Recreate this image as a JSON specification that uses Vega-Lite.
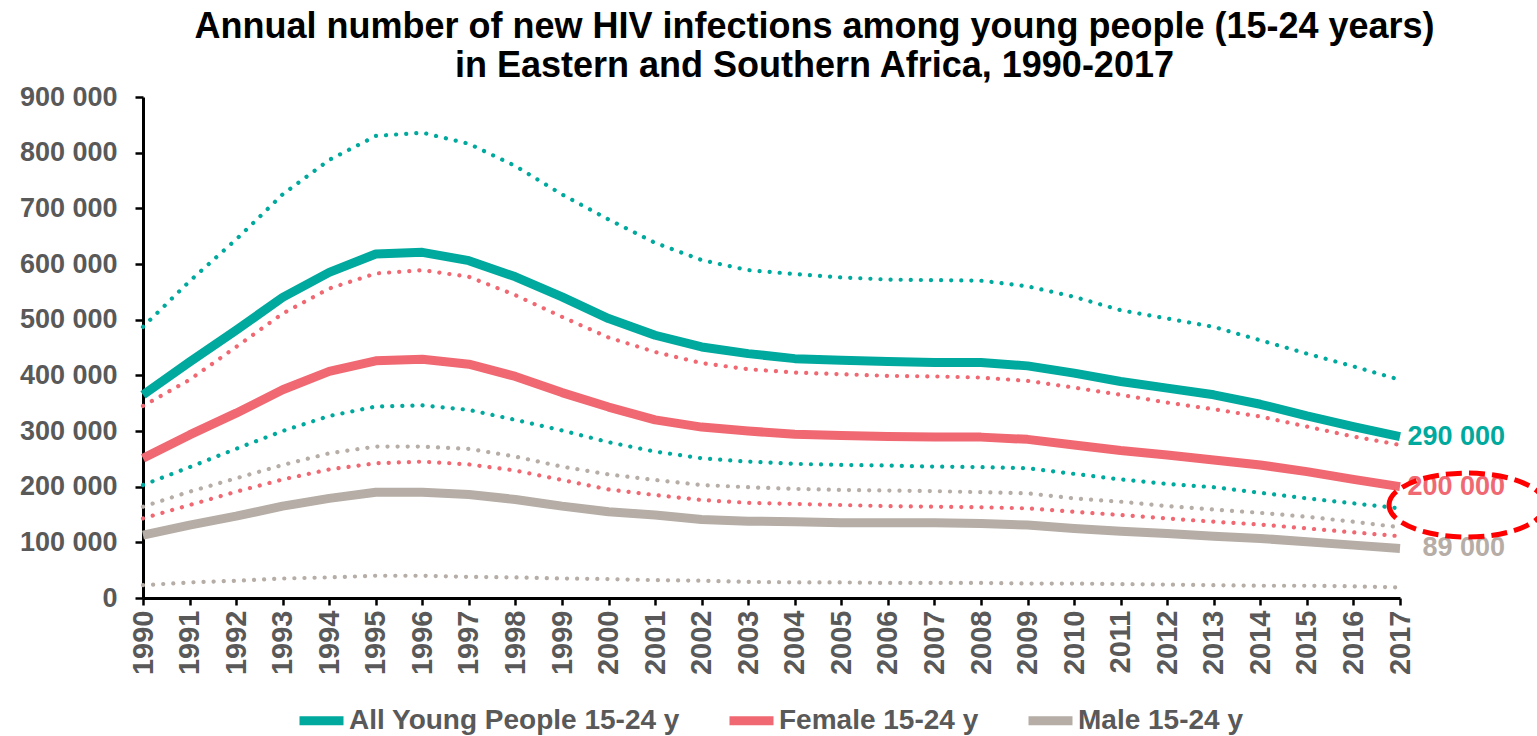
{
  "$schema": "https://vega.github.io/schema/vega-lite/v6.json",
  "autosize": "none",
  "padding": {"left": 143, "top": 97, "right": 137, "bottom": 138},
  "width": 1257,
  "height": 501,
  "title": {
    "text": ["Annual number of new HIV infections among young people (15-24 years)", "in Eastern and Southern Africa, 1990-2017"],
    "anchor": "middle",
    "dx": 43,
    "dy": 22,
    "offset": 20,
    "lineHeight": 39
  },
  "datasets": {
    "infections": [
      {"year": 1990, "group": "All Young People 15-24 y", "estimate": 365000, "lower": 203000, "upper": 487000},
      {"year": 1991, "group": "All Young People 15-24 y", "estimate": 424000, "lower": 235000, "upper": 569000},
      {"year": 1992, "group": "All Young People 15-24 y", "estimate": 481000, "lower": 268000, "upper": 644000},
      {"year": 1993, "group": "All Young People 15-24 y", "estimate": 540000, "lower": 300000, "upper": 725000},
      {"year": 1994, "group": "All Young People 15-24 y", "estimate": 585000, "lower": 327000, "upper": 787000},
      {"year": 1995, "group": "All Young People 15-24 y", "estimate": 618000, "lower": 344000, "upper": 830000},
      {"year": 1996, "group": "All Young People 15-24 y", "estimate": 621000, "lower": 346000, "upper": 836000},
      {"year": 1997, "group": "All Young People 15-24 y", "estimate": 606000, "lower": 338000, "upper": 816000},
      {"year": 1998, "group": "All Young People 15-24 y", "estimate": 577000, "lower": 320000, "upper": 776000},
      {"year": 1999, "group": "All Young People 15-24 y", "estimate": 541000, "lower": 301000, "upper": 725000},
      {"year": 2000, "group": "All Young People 15-24 y", "estimate": 502000, "lower": 280000, "upper": 680000},
      {"year": 2001, "group": "All Young People 15-24 y", "estimate": 472000, "lower": 263000, "upper": 638000},
      {"year": 2002, "group": "All Young People 15-24 y", "estimate": 451000, "lower": 251000, "upper": 607000},
      {"year": 2003, "group": "All Young People 15-24 y", "estimate": 439000, "lower": 245000, "upper": 589000},
      {"year": 2004, "group": "All Young People 15-24 y", "estimate": 430000, "lower": 241000, "upper": 582000},
      {"year": 2005, "group": "All Young People 15-24 y", "estimate": 427000, "lower": 239000, "upper": 576000},
      {"year": 2006, "group": "All Young People 15-24 y", "estimate": 425000, "lower": 238000, "upper": 572000},
      {"year": 2007, "group": "All Young People 15-24 y", "estimate": 423000, "lower": 236000, "upper": 571000},
      {"year": 2008, "group": "All Young People 15-24 y", "estimate": 423000, "lower": 235000, "upper": 570000},
      {"year": 2009, "group": "All Young People 15-24 y", "estimate": 417000, "lower": 233000, "upper": 560000},
      {"year": 2010, "group": "All Young People 15-24 y", "estimate": 404000, "lower": 223000, "upper": 541000},
      {"year": 2011, "group": "All Young People 15-24 y", "estimate": 389000, "lower": 213000, "upper": 517000},
      {"year": 2012, "group": "All Young People 15-24 y", "estimate": 377000, "lower": 205000, "upper": 502000},
      {"year": 2013, "group": "All Young People 15-24 y", "estimate": 365000, "lower": 199000, "upper": 487000},
      {"year": 2014, "group": "All Young People 15-24 y", "estimate": 348000, "lower": 189000, "upper": 463000},
      {"year": 2015, "group": "All Young People 15-24 y", "estimate": 327000, "lower": 179000, "upper": 439000},
      {"year": 2016, "group": "All Young People 15-24 y", "estimate": 308000, "lower": 170000, "upper": 416000},
      {"year": 2017, "group": "All Young People 15-24 y", "estimate": 290000, "lower": 161000, "upper": 392000},
      {"year": 1990, "group": "Female 15-24 y", "estimate": 251000, "lower": 143000, "upper": 345000},
      {"year": 1991, "group": "Female 15-24 y", "estimate": 293000, "lower": 167000, "upper": 392000},
      {"year": 1992, "group": "Female 15-24 y", "estimate": 332000, "lower": 191000, "upper": 451000},
      {"year": 1993, "group": "Female 15-24 y", "estimate": 374000, "lower": 213000, "upper": 511000},
      {"year": 1994, "group": "Female 15-24 y", "estimate": 407000, "lower": 231000, "upper": 556000},
      {"year": 1995, "group": "Female 15-24 y", "estimate": 426000, "lower": 242000, "upper": 583000},
      {"year": 1996, "group": "Female 15-24 y", "estimate": 429000, "lower": 245000, "upper": 589000},
      {"year": 1997, "group": "Female 15-24 y", "estimate": 420000, "lower": 240000, "upper": 577000},
      {"year": 1998, "group": "Female 15-24 y", "estimate": 398000, "lower": 229000, "upper": 544000},
      {"year": 1999, "group": "Female 15-24 y", "estimate": 369000, "lower": 212000, "upper": 505000},
      {"year": 2000, "group": "Female 15-24 y", "estimate": 343000, "lower": 195000, "upper": 468000},
      {"year": 2001, "group": "Female 15-24 y", "estimate": 320000, "lower": 185000, "upper": 442000},
      {"year": 2002, "group": "Female 15-24 y", "estimate": 307000, "lower": 176000, "upper": 422000},
      {"year": 2003, "group": "Female 15-24 y", "estimate": 300000, "lower": 171000, "upper": 411000},
      {"year": 2004, "group": "Female 15-24 y", "estimate": 294000, "lower": 169000, "upper": 405000},
      {"year": 2005, "group": "Female 15-24 y", "estimate": 292000, "lower": 167000, "upper": 402000},
      {"year": 2006, "group": "Female 15-24 y", "estimate": 290000, "lower": 165000, "upper": 399000},
      {"year": 2007, "group": "Female 15-24 y", "estimate": 289000, "lower": 164000, "upper": 398000},
      {"year": 2008, "group": "Female 15-24 y", "estimate": 289000, "lower": 163000, "upper": 396000},
      {"year": 2009, "group": "Female 15-24 y", "estimate": 285000, "lower": 161000, "upper": 390000},
      {"year": 2010, "group": "Female 15-24 y", "estimate": 275000, "lower": 155000, "upper": 378000},
      {"year": 2011, "group": "Female 15-24 y", "estimate": 265000, "lower": 149000, "upper": 365000},
      {"year": 2012, "group": "Female 15-24 y", "estimate": 257000, "lower": 143000, "upper": 351000},
      {"year": 2013, "group": "Female 15-24 y", "estimate": 248000, "lower": 137000, "upper": 339000},
      {"year": 2014, "group": "Female 15-24 y", "estimate": 239000, "lower": 132000, "upper": 326000},
      {"year": 2015, "group": "Female 15-24 y", "estimate": 227000, "lower": 125000, "upper": 308000},
      {"year": 2016, "group": "Female 15-24 y", "estimate": 213000, "lower": 118000, "upper": 290000},
      {"year": 2017, "group": "Female 15-24 y", "estimate": 200000, "lower": 111000, "upper": 275000},
      {"year": 1990, "group": "Male 15-24 y", "estimate": 113000, "lower": 23000, "upper": 164000},
      {"year": 1991, "group": "Male 15-24 y", "estimate": 131000, "lower": 28000, "upper": 191000},
      {"year": 1992, "group": "Male 15-24 y", "estimate": 147000, "lower": 31000, "upper": 215000},
      {"year": 1993, "group": "Male 15-24 y", "estimate": 165000, "lower": 35000, "upper": 239000},
      {"year": 1994, "group": "Male 15-24 y", "estimate": 179000, "lower": 37000, "upper": 260000},
      {"year": 1995, "group": "Male 15-24 y", "estimate": 190000, "lower": 40000, "upper": 272000},
      {"year": 1996, "group": "Male 15-24 y", "estimate": 190000, "lower": 40000, "upper": 272000},
      {"year": 1997, "group": "Male 15-24 y", "estimate": 186000, "lower": 38000, "upper": 268000},
      {"year": 1998, "group": "Male 15-24 y", "estimate": 177000, "lower": 37000, "upper": 254000},
      {"year": 1999, "group": "Male 15-24 y", "estimate": 165000, "lower": 35000, "upper": 236000},
      {"year": 2000, "group": "Male 15-24 y", "estimate": 155000, "lower": 34000, "upper": 222000},
      {"year": 2001, "group": "Male 15-24 y", "estimate": 149000, "lower": 32000, "upper": 212000},
      {"year": 2002, "group": "Male 15-24 y", "estimate": 141000, "lower": 31000, "upper": 203000},
      {"year": 2003, "group": "Male 15-24 y", "estimate": 138000, "lower": 29000, "upper": 199000},
      {"year": 2004, "group": "Male 15-24 y", "estimate": 137000, "lower": 28000, "upper": 196000},
      {"year": 2005, "group": "Male 15-24 y", "estimate": 135000, "lower": 28000, "upper": 194000},
      {"year": 2006, "group": "Male 15-24 y", "estimate": 135000, "lower": 27000, "upper": 193000},
      {"year": 2007, "group": "Male 15-24 y", "estimate": 135000, "lower": 27000, "upper": 192000},
      {"year": 2008, "group": "Male 15-24 y", "estimate": 134000, "lower": 27000, "upper": 190000},
      {"year": 2009, "group": "Male 15-24 y", "estimate": 131000, "lower": 26000, "upper": 188000},
      {"year": 2010, "group": "Male 15-24 y", "estimate": 125000, "lower": 26000, "upper": 179000},
      {"year": 2011, "group": "Male 15-24 y", "estimate": 120000, "lower": 25000, "upper": 173000},
      {"year": 2012, "group": "Male 15-24 y", "estimate": 116000, "lower": 24000, "upper": 165000},
      {"year": 2013, "group": "Male 15-24 y", "estimate": 111000, "lower": 23000, "upper": 159000},
      {"year": 2014, "group": "Male 15-24 y", "estimate": 107000, "lower": 22000, "upper": 153000},
      {"year": 2015, "group": "Male 15-24 y", "estimate": 101000, "lower": 22000, "upper": 146000},
      {"year": 2016, "group": "Male 15-24 y", "estimate": 95000, "lower": 21000, "upper": 137000},
      {"year": 2017, "group": "Male 15-24 y", "estimate": 89000, "lower": 19000, "upper": 127000}
    ],
    "highlight": [
      {"year": 2018.44, "value": 167000}
    ]
  },
  "data": {"name": "infections"},
  "transform": [
    {"fold": ["estimate", "lower", "upper"], "as": ["bound", "value"]}
  ],
  "encoding": {
    "x": {
      "field": "year",
      "type": "quantitative",
      "scale": {"domain": [1990, 2017], "nice": false, "zero": false},
      "axis": {
        "title": null,
        "values": [1990, 1991, 1992, 1993, 1994, 1995, 1996, 1997, 1998, 1999, 2000, 2001, 2002, 2003, 2004, 2005, 2006, 2007, 2008, 2009, 2010, 2011, 2012, 2013, 2014, 2015, 2016, 2017],
        "format": "d",
        "labelAngle": 270,
        "labelPadding": 5,
        "labelFontSize": 29,
        "labelOverlap": false,
        "labelFlush": false,
        "tickSize": 7
      }
    },
    "y": {
      "field": "value",
      "type": "quantitative",
      "scale": {"domain": [0, 900000], "nice": false},
      "axis": {
        "title": null,
        "values": [0, 100000, 200000, 300000, 400000, 500000, 600000, 700000, 800000, 900000],
        "format": ",d",
        "labelPadding": 18,
        "labelFlush": false,
        "tickSize": 8
      }
    }
  },
  "resolve": {"legend": {"color": "independent"}},
  "layer": [
    {
      "transform": [{"filter": "datum.bound !== 'estimate'"}],
      "mark": {"type": "line", "strokeWidth": 4.2, "strokeDash": [0.1, 10], "strokeCap": "round"},
      "encoding": {
        "color": {"field": "group", "type": "nominal", "legend": null},
        "detail": {"field": "bound"}
      }
    },
    {
      "transform": [{"filter": "datum.bound === 'estimate'"}],
      "mark": {"type": "line", "strokeWidth": 9, "strokeCap": "butt", "strokeJoin": "round"},
      "encoding": {
        "color": {
          "field": "group",
          "type": "nominal",
          "scale": {
            "domain": ["All Young People 15-24 y", "Female 15-24 y", "Male 15-24 y"],
            "range": ["#00A99D", "#F06872", "#B5ADA6"]
          },
          "legend": {
            "title": null,
            "orient": "none",
            "direction": "horizontal",
            "legendX": 152,
            "legendY": 597,
            "symbolType": "stroke",
            "symbolSize": 1936,
            "symbolStrokeWidth": 9,
            "labelOffset": 1,
            "columnPadding": 31
          }
        }
      }
    },
    {
      "transform": [{"filter": "datum.bound === 'estimate' && datum.year === 2017"}],
      "mark": {"type": "text", "align": "right", "baseline": "middle", "dx": 105, "fontSize": 27, "fontWeight": "bold", "font": "Liberation Sans, Arial, sans-serif"},
      "encoding": {
        "text": {"field": "value", "type": "quantitative", "format": ",d"},
        "color": {"field": "group", "type": "nominal", "legend": null}
      }
    },
    {
      "data": {"name": "highlight"},
      "transform": [],
      "mark": {
        "type": "point",
        "shape": "M -1 0 C -1 -0.2264 -0.5523 -0.41 0 -0.41 C 0.5523 -0.41 1 -0.2264 1 0 C 1 0.2264 0.5523 0.41 0 0.41 C -0.5523 0.41 -1 0.2264 -1 0 Z",
        "size": 24336,
        "filled": false,
        "stroke": "#FF0000",
        "strokeWidth": 5,
        "strokeDash": [16, 7],
        "opacity": 1
      },
      "encoding": {
        "x": {"field": "year", "type": "quantitative"},
        "y": {"field": "value", "type": "quantitative"}
      }
    }
  ],
  "config": {
    "locale": {
      "number": {"decimal": ".", "thousands": " ", "grouping": [3], "currency": ["", ""]}
    },
    "font": "Liberation Sans, Arial, sans-serif",
    "view": {"stroke": null},
    "title": {"font": "Liberation Sans, Arial, sans-serif", "fontSize": 36, "fontWeight": "bold", "color": "#000000"},
    "axis": {
      "grid": false,
      "domainColor": "#000000",
      "domainWidth": 3,
      "tickColor": "#000000",
      "tickWidth": 2.5,
      "labelFont": "Liberation Sans, Arial, sans-serif",
      "labelFontSize": 27,
      "labelFontWeight": "bold",
      "labelColor": "#595959"
    },
    "legend": {
      "labelFont": "Liberation Sans, Arial, sans-serif",
      "labelFontSize": 28,
      "labelFontWeight": "bold",
      "labelColor": "#595959",
      "labelLimit": 600
    }
  }
}
